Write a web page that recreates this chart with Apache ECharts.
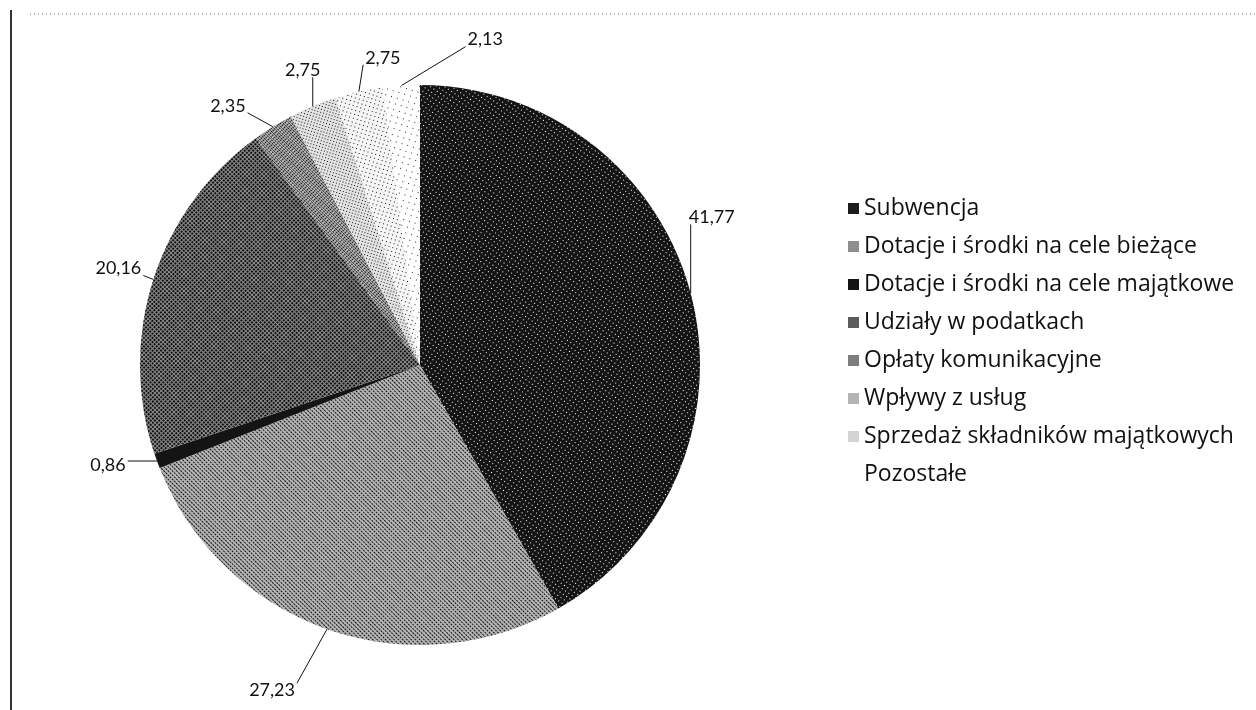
<!DOCTYPE html>
<html>
<head>
<meta charset="utf-8">
<script src="https://cdn.jsdelivr.net/npm/echarts@6/dist/echarts.min.js"></script>
<style>
html,body{margin:0;padding:0;background:#fff;}
#chart{width:1256px;height:710px;}
</style>
</head>
<body>
<div id="chart"></div>
<script>
const categories = [
  'Subwencja',
  'Dotacje i środki na cele bieżące',
  'Dotacje i środki na cele majątkowe',
  'Udziały w podatkach',
  'Opłaty komunikacyjne',
  'Wpływy z usług',
  'Sprzedaż składników majątkowych',
  'Pozostałe'
];
const values = [41.77, 27.23, 0.86, 20.16, 2.35, 2.75, 2.75, 2.13];
const colors = ['#141414', '#b4b4b4', '#141414', '#8c8c8c', '#b8b8b8', '#e2e2e2', '#f6f6f6', '#ffffff'];
// halftone-like textures (styling only)
const decals = [
  {symbol: 'rect', symbolSize: 1, dashArrayX: [1, 3], dashArrayY: [1, 3], color: '#ffffff', rotation: 0.6},
  {symbol: 'rect', symbolSize: 1, dashArrayX: [2, 1], dashArrayY: [1, 2], color: '#111111', rotation: 0.78},
  {symbol: 'none'},
  {symbol: 'rect', symbolSize: 1, dashArrayX: [2, 1], dashArrayY: [2, 1], color: '#111111', rotation: 0.78},
  {symbol: 'rect', symbolSize: 1, dashArrayX: [2, 1], dashArrayY: [1, 1], color: '#1a1a1a', rotation: 0.78},
  {symbol: 'rect', symbolSize: 1, dashArrayX: [1, 2], dashArrayY: [1, 2], color: '#1a1a1a', rotation: 0.3},
  {symbol: 'rect', symbolSize: 1, dashArrayX: [1, 3], dashArrayY: [1, 3], color: '#1a1a1a', rotation: 0.3},
  {symbol: 'rect', symbolSize: 1, dashArrayX: [1, 5], dashArrayY: [1, 5], color: '#333333', rotation: 0.3}
];
const legendColors = ['#1c1c1c', '#8e8e8e', '#141414', '#5c5c5c', '#7e7e7e', '#b4b4b4', '#d4d4d4', '#ffffff'];
// label offsets (relative to the slice's outer edge point), styling only
const labelShift = [[21, -76], [-55, 61], [-49, 4], [-35, -11], [-45, -21], [-10, -36], [24, -34], [84, -46]];

const FONT = 'Lato, "Open Sans", sans-serif';
const chart = echarts.init(document.getElementById('chart'), null, {renderer: 'canvas'});

const data = categories.map((name, i) => ({
  name: name,
  value: values[i],
  itemStyle: {color: colors[i], decal: decals[i]}
}));

chart.setOption({
  backgroundColor: '#ffffff',
  animation: false,
  graphic: [
    {type: 'line', shape: {x1: 11, y1: 10, x2: 11, y2: 710}, style: {stroke: '#333', lineWidth: 2}},
    {type: 'line', shape: {x1: 30, y1: 14, x2: 1256, y2: 14}, style: {stroke: '#777', lineWidth: 1, lineDash: [1, 3]}}
  ],
  legend: {
    orient: 'vertical',
    left: 843,
    top: 192,
    icon: 'rect',
    itemWidth: 11,
    itemHeight: 11,
    itemGap: 15,
    textStyle: {fontFamily: '"Open Sans", sans-serif', fontSize: 23, color: '#111', lineHeight: 21},
    data: categories.map((n, i) => ({name: n, itemStyle: {color: legendColors[i], decal: 'none'}}))
  },
  series: [{
    type: 'pie',
    center: [420, 365],
    radius: 280,
    startAngle: 90,
    clockwise: true,
    avoidLabelOverlap: false,
    data: data,
    itemStyle: {borderWidth: 0},
    label: {
      show: true,
      position: 'outside',
      formatter: p => String(p.value.toFixed(2)).replace('.', ','),
      fontFamily: FONT,
      fontSize: 18,
      color: '#111'
    },
    labelLine: {
      show: true,
      length: 8,
      length2: 8,
      lineStyle: {color: '#111', width: 1}
    },
    labelLayout: function (p) {
      const s = labelShift[p.dataIndex];
      const e = p.labelLinePoints ? p.labelLinePoints[0] : [p.labelRect.x, p.labelRect.y];
      const cx = e[0] + s[0], cy = e[1] + s[1];
      const w = p.labelRect.width, h = p.labelRect.height;
      const ex = Math.max(cx - w / 2 - 2, Math.min(e[0], cx + w / 2 + 2));
      const ey = Math.max(cy - h / 2 + 2, Math.min(e[1], cy + h / 2 - 2));
      return {
        x: cx, y: cy, align: 'center', verticalAlign: 'middle',
        labelLinePoints: [e, [ex, ey], [ex, ey]]
      };
    },
    emphasis: {disabled: true}
  }]
});
</script>
</body>
</html>
